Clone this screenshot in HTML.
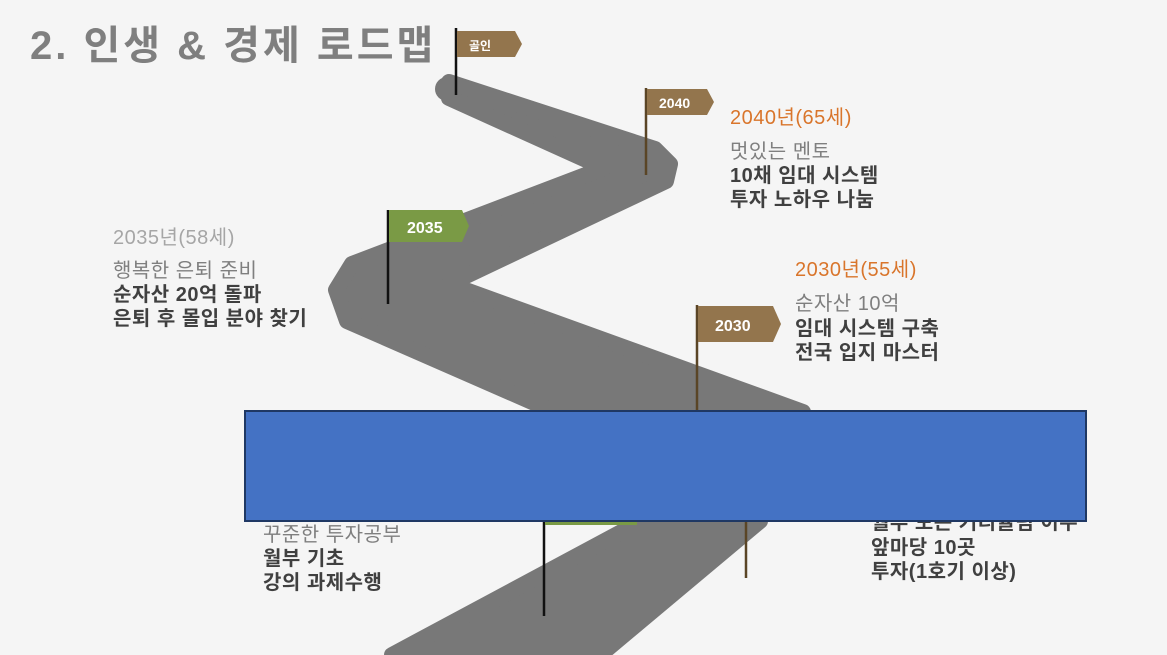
<!DOCTYPE html>
<html><head><meta charset="utf-8"><style>
body{margin:0;width:1167px;height:655px;overflow:hidden;background:#f5f5f5;font-family:"Liberation Sans","Noto Sans CJK KR",sans-serif;}
.t{position:absolute;white-space:nowrap;font-size:20px;line-height:25px;letter-spacing:0.5px}
.g{color:#7f7f7f}.d{color:#404040;font-weight:bold}.o{color:#d9752b;font-size:20px}.l{color:#a6a6a6;font-size:20px}
</style></head><body>
<svg width="1167" height="655" style="position:absolute;left:0;top:0">
<g fill="#787878" stroke="#787878" stroke-width="16" stroke-linejoin="round">
<polygon points="449,82 655,149 670,164 666,181 449,284 803,412 555,412 347,321 336,290 352,264 604,168 449,98"/>
<polygon points="642,521 760,521 600,655 392,655"/>
</g>
<circle cx="447" cy="89" r="12" fill="#787878"/>
<line x1="456" y1="28" x2="456" y2="95" stroke="#111" stroke-width="2.5"/>
<line x1="646" y1="88" x2="646" y2="175" stroke="#5a4526" stroke-width="2.5"/>
<line x1="388" y1="210" x2="388" y2="304" stroke="#111" stroke-width="2.5"/>
<line x1="697" y1="305" x2="697" y2="411" stroke="#5a4526" stroke-width="2.5"/>
<line x1="544" y1="520" x2="544" y2="616" stroke="#111" stroke-width="2.5"/>
<line x1="746" y1="520" x2="746" y2="578" stroke="#5a4526" stroke-width="2.5"/>
<polygon points="457,31 515,31 522,44 515,57 457,57" fill="#93754d"/>
<polygon points="647,89 707,89 714,102 707,115 647,115" fill="#93754d"/>
<polygon points="389,210 462,210 469,226 462,242 389,242" fill="#7a9a45"/>
<polygon points="698,306 773,306 781,324 773,342 698,342" fill="#93754d"/>
<rect x="545" y="518" width="92" height="7" fill="#7a9a45"/>
<text x="469" y="50" font-size="12" font-weight="bold" fill="#fff" font-family="Liberation Sans,Noto Sans CJK KR,sans-serif">골인</text>
<text x="659" y="108" font-size="14" font-weight="bold" fill="#fff" font-family="Liberation Sans,sans-serif">2040</text>
<text x="407" y="233" font-size="16" font-weight="bold" fill="#fff" font-family="Liberation Sans,sans-serif">2035</text>
<text x="715" y="331" font-size="16" font-weight="bold" fill="#fff" font-family="Liberation Sans,sans-serif">2030</text>
<rect x="245" y="411" width="841" height="110" fill="#4472c4" stroke="#1f3864" stroke-width="2"/>
</svg>
<div class="t" style="left:30px;top:22px;font-size:40px;line-height:48px;letter-spacing:3px;font-weight:bold;color:#7f7f7f">2. 인생 &amp; 경제 로드맵</div>
<div class="t o" style="left:730px;top:106px">2040년(65세)</div>
<div class="t g" style="left:730px;top:140px">멋있는 멘토</div>
<div class="t d" style="left:730px;top:164px">10채 임대 시스템</div>
<div class="t d" style="left:730px;top:188px">투자 노하우 나눔</div>
<div class="t l" style="left:113px;top:226px">2035년(58세)</div>
<div class="t g" style="left:113px;top:259px">행복한 은퇴 준비</div>
<div class="t d" style="left:113px;top:283px">순자산 20억 돌파</div>
<div class="t d" style="left:113px;top:307px">은퇴 후 몰입 분야 찾기</div>
<div class="t o" style="left:795px;top:258px">2030년(55세)</div>
<div class="t g" style="left:795px;top:292px">순자산 10억</div>
<div class="t d" style="left:795px;top:317px">임대 시스템 구축</div>
<div class="t d" style="left:795px;top:341px">전국 입지 마스터</div>
<div class="t g" style="left:263px;top:523px">꾸준한 투자공부</div>
<div class="t d" style="left:263px;top:547px">월부 기초</div>
<div class="t d" style="left:263px;top:571px">강의 과제수행</div>
<div class="t d" style="left:871px;top:536px">앞마당 10곳</div>
<div class="t d" style="left:871px;top:560px">투자(1호기 이상)</div>
<div style="position:absolute;left:871px;top:522px;height:14px;overflow:hidden;width:220px"><div class="t d" style="left:0;top:-11px">월부 모든 커리큘럼 이수</div></div>
</body></html>
